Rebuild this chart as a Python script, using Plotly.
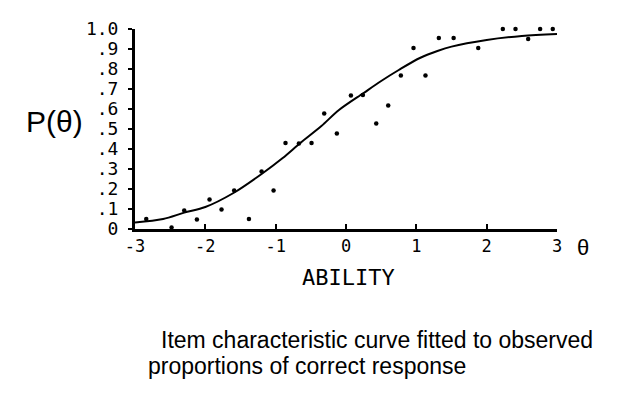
import plotly.graph_objects as go

# Observed proportions of correct response (dots)
obs_theta = [-2.84, -2.48, -2.30, -2.12, -1.94, -1.77, -1.59, -1.38, -1.20, -1.03,
             -0.86, -0.67, -0.49, -0.31, -0.13, 0.07, 0.24, 0.43, 0.60, 0.78,
             0.96, 1.05, 1.13, 1.32, 1.53, 1.70, 1.88, 2.06, 2.23, 2.41,
             2.59, 2.76, 2.94]
obs_p = [0.05, 0.008, 0.093, 0.047, 0.147, 0.097, 0.193, 0.05, 0.287, 0.193,
         0.43, 0.427, 0.43, 0.577, 0.477, 0.667, 0.67, 0.527, 0.617, 0.767,
         0.905, 1.075, 0.767, 0.955, 0.955, 1.008, 0.905, 1.005, 1.0, 1.0,
         0.95, 1.0, 1.0]

# Fitted item characteristic curve
icc_theta = [-3.0, -2.6, -2.3, -2.0, -1.6, -1.2, -0.9, -0.65, -0.35, -0.1,
             0.25, 0.5, 0.75, 1.05, 1.3, 1.5, 2.0, 2.5, 3.0]
icc_p = [0.033, 0.05, 0.082, 0.11, 0.18, 0.275, 0.355, 0.43, 0.515, 0.595,
         0.68, 0.74, 0.795, 0.855, 0.89, 0.912, 0.945, 0.965, 0.975]

x_ticks = [-3, -2, -1, 0, 1, 2, 3]
x_tick_text = ["-3", "-2", "-1", "0", "1", "2", "3"]
y_ticks = [0, 0.1, 0.2, 0.3, 0.4, 0.5, 0.6, 0.7, 0.8, 0.9, 1.0]
y_tick_text = ["0", ".1", ".2", ".3", ".4", ".5", ".6", ".7", ".8", ".9", "1.0"]

mono = "DejaVu Sans Mono"
sans = "Liberation Sans"

fig = go.Figure()
fig.add_trace(go.Scatter(x=icc_theta, y=icc_p, mode="lines",
                         line=dict(color="black", width=2, shape="spline", smoothing=0.9),
                         hoverinfo="skip", cliponaxis=False))
fig.add_trace(go.Scatter(x=obs_theta, y=obs_p, mode="markers",
                         marker=dict(color="black", size=4.5),
                         cliponaxis=False))

fig.update_layout(
    width=640, height=397,
    margin=dict(l=127, r=91, t=21, b=176, autoexpand=False),
    paper_bgcolor="white", plot_bgcolor="white",
    showlegend=False,
    xaxis=dict(range=[-3, 3], tickvals=x_ticks, ticktext=x_tick_text,
               showgrid=False, zeroline=False, showline=True, linecolor="black",
               linewidth=3, ticks="inside", ticklen=5, tickwidth=2, tickcolor="black",
               tickfont=dict(family=mono, size=17, color="black")),
    yaxis=dict(range=[0, 1.0], tickvals=y_ticks, ticktext=y_tick_text,
               showgrid=False, zeroline=False, showline=True, linecolor="black",
               linewidth=3, ticks="outside", ticklen=4, tickwidth=2, tickcolor="black",
               ticklabelstandoff=6,
               tickfont=dict(family=mono, size=18, color="black")),
    annotations=[
        dict(text="P(θ)", xref="paper", yref="paper", x=-0.19, y=0.536,
             xanchor="center", yanchor="middle",
             showarrow=False, font=dict(family=sans, size=30, color="black")),
        dict(text="θ", xref="paper", yref="paper", x=1.062, y=-0.094,
             xanchor="center", yanchor="middle",
             showarrow=False, font=dict(family=sans, size=22, color="black")),
        dict(text="ABILITY", xref="paper", yref="paper", x=0.505, y=-0.2435,
             xanchor="center", yanchor="middle",
             showarrow=False, font=dict(family=mono, size=22, color="black")),
        dict(text="Item characteristic curve fitted to observed", xref="paper", yref="paper",
             x=0.056, y=-0.5535, xanchor="left", yanchor="middle", showarrow=False,
             font=dict(family=sans, size=23, color="black")),
        dict(text="proportions of correct response", xref="paper", yref="paper",
             x=0.025, y=-0.6835, xanchor="left", yanchor="middle", showarrow=False,
             font=dict(family=sans, size=23, color="black")),
    ],
)

fig.write_html("out.html")
